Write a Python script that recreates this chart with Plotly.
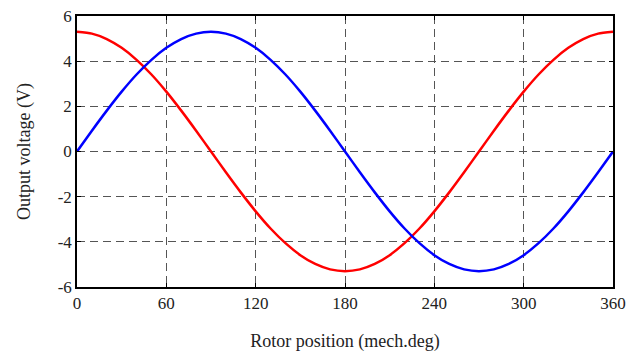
import plotly.graph_objects as go

angle = [0, 10, 20, 30, 40, 50, 60, 70, 80, 90, 100, 110, 120, 130, 140, 150, 160, 170, 180,
         190, 200, 210, 220, 230, 240, 250, 260, 270, 280, 290, 300, 310, 320, 330, 340, 350, 360]
red_v = [5.30, 5.22, 4.98, 4.59, 4.06, 3.41, 2.65, 1.81, 0.92, 0.00, -0.92, -1.81, -2.65, -3.41,
         -4.06, -4.59, -4.98, -5.22, -5.30, -5.22, -4.98, -4.59, -4.06, -3.41, -2.65, -1.81,
         -0.92, 0.00, 0.92, 1.81, 2.65, 3.41, 4.06, 4.59, 4.98, 5.22, 5.30]
blue_v = [0.00, 0.92, 1.81, 2.65, 3.41, 4.06, 4.59, 4.98, 5.22, 5.30, 5.22, 4.98, 4.59, 4.06,
          3.41, 2.65, 1.81, 0.92, 0.00, -0.92, -1.81, -2.65, -3.41, -4.06, -4.59, -4.98, -5.22,
          -5.30, -5.22, -4.98, -4.59, -4.06, -3.41, -2.65, -1.81, -0.92, 0.00]
x_ticks = [0, 60, 120, 180, 240, 300, 360]
y_ticks = [-6, -4, -2, 0, 2, 4, 6]

fig = go.Figure()
fig.add_trace(go.Scatter(x=angle, y=red_v, mode="lines", line=dict(color="#ff0000", width=2.5, shape="spline", smoothing=0.6)))
fig.add_trace(go.Scatter(x=angle, y=blue_v, mode="lines", line=dict(color="#0000ff", width=2.5, shape="spline", smoothing=0.6)))

fam = "Liberation Serif, Times New Roman, serif"
font = dict(family=fam, size=17, color="#222")
axis_common = dict(showgrid=True, gridcolor="#555", gridwidth=1, griddash="8px,5px",
                   showline=True, linecolor="black", linewidth=1.5, mirror="ticks",
                   ticks="inside", ticklen=4, tickcolor="black", zeroline=False,
                   tickfont=font, automargin=False)
fig.update_xaxes(range=[0, 360], tickvals=x_ticks, ticktext=[str(v) for v in x_ticks],
                 title=dict(text="Rotor position (mech.deg)", font=dict(family=fam, size=18, color="#222"), standoff=24),
                 ticklabelstandoff=0, **axis_common)
fig.update_yaxes(range=[-6, 6], tickvals=y_ticks, ticktext=[str(v) for v in y_ticks],
                 title=dict(text="Output voltage (V)", font=dict(family=fam, size=18, color="#222"), standoff=22),
                 **axis_common)
fig.update_layout(width=628, height=352, margin=dict(l=77, r=15, t=16, b=65),
                  paper_bgcolor="white", plot_bgcolor="white", showlegend=False)
fig.write_html("out.html")
